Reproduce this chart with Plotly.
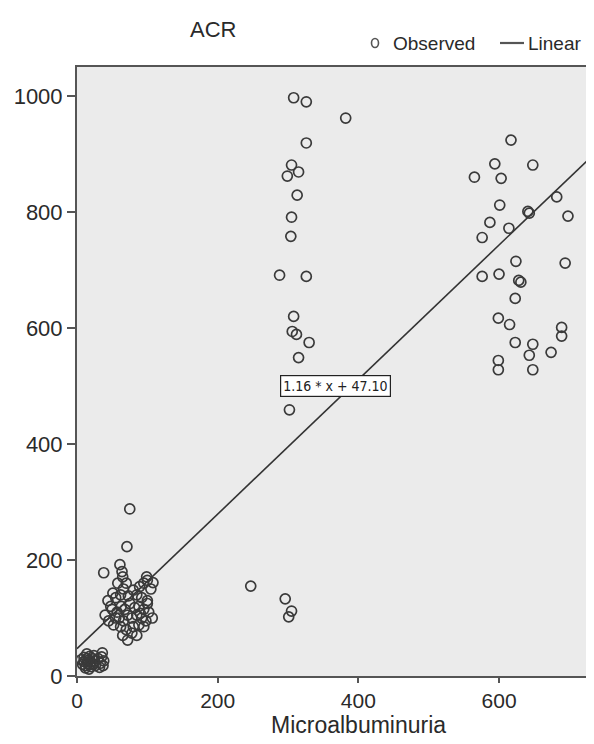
import plotly.graph_objects as go

# ---------------- data ----------------
upper_mid_x = [308, 326, 382, 326, 305, 299, 315, 313, 305, 304, 288, 326, 308, 306, 312, 330, 315, 302]
upper_mid_y = [997, 990, 962, 919, 881, 862, 869, 829, 791, 758, 691, 689, 620, 594, 589, 575, 549, 459]

lower_mid_x = [247, 296, 305, 301]
lower_mid_y = [155, 133, 112, 102]

right_x = [617, 594, 648, 565, 603, 601, 682, 641, 643, 587, 614, 698, 576,
           624, 694, 576, 600, 628, 631, 623, 599, 615, 689, 689, 623, 648, 674, 643, 599, 599, 648]
right_y = [924, 883, 881, 860, 858, 812, 826, 801, 798, 782, 772, 793, 756,
           715, 712, 689, 693, 682, 679, 651, 617, 606, 601, 586, 575, 572, 558, 553, 544, 528, 528]

cluster_x = [75, 71, 38, 61, 64, 65, 99, 108, 89, 51, 95, 100, 58, 70, 66, 80, 44, 48, 55, 62,
             73, 85, 92, 100, 105, 57, 63, 68, 75, 82, 88, 95, 102, 107, 60, 66, 72, 78, 85, 92,
             98, 40, 45, 52, 62, 70, 80, 88, 95, 65, 72, 78, 85, 100, 90, 55, 50]
cluster_y = [288, 223, 178, 192, 180, 171, 171, 161, 154, 143, 160, 165, 160, 160, 150, 148, 130, 120, 135, 140,
             138, 140, 135, 130, 150, 110, 120, 115, 125, 118, 120, 115, 110, 100, 100, 95, 105, 100, 105, 100,
             95, 105, 95, 88, 85, 80, 85, 88, 85, 70, 62, 74, 70, 125, 108, 100, 115]

blob_x = [8, 10, 12, 14, 15, 16, 18, 18, 20, 20, 22, 23, 25, 10, 12, 6, 24, 17, 26, 14,
          30, 33, 35, 37, 38, 32, 36]
blob_y = [20, 25, 18, 30, 22, 27, 20, 34, 24, 16, 30, 20, 26, 32, 14, 28, 35, 12, 18, 38,
          30, 22, 33, 18, 26, 15, 40]

obs_x = upper_mid_x + lower_mid_x + right_x + cluster_x + blob_x
obs_y = upper_mid_y + lower_mid_y + right_y + cluster_y + blob_y

slope = 1.16
intercept = 47.10
fit_x = [0, 735]
fit_y = [slope * v + intercept for v in fit_x]
eq_label = "1.16 * x + 47.10"
eq_pos = (367, 500)

x_ticks = [0, 200, 400, 600]
y_ticks = [0, 200, 400, 600, 800, 1000]

# ---------------- figure ----------------
# page body has an 8px margin: the figure is drawn from (8, 8) of the window
OFF = 8
WIN_W, WIN_H = 594, 744
W, H = WIN_W - OFF, WIN_H - OFF
PLOT_L, PLOT_R, PLOT_T, PLOT_B = 77, 594, 67, 676   # window pixels
ML, MR, MT, MB = PLOT_L - OFF, OFF + W - PLOT_R, PLOT_T - OFF, OFF + H - PLOT_B
PW, PH = PLOT_R - PLOT_L, PLOT_B - PLOT_T

def px_to_paper(px, py):
    return (px - PLOT_L) / PW, (PLOT_B - py) / PH

FONT = "Liberation Sans, Arial, sans-serif"
INK = "#2a2a2a"

fig = go.Figure()
fig.add_trace(go.Scatter(
    x=fit_x, y=fit_y, mode="lines",
    line=dict(color="#333333", width=1.6), showlegend=False, hoverinfo="skip"))
fig.add_trace(go.Scatter(
    x=obs_x, y=obs_y, mode="markers",
    marker=dict(symbol="circle-open", size=10, color="#3a3a3a", line=dict(width=1.7, color="#3a3a3a")),
    showlegend=False))

fig.update_layout(
    width=W, height=H,
    margin=dict(l=ML, r=MR, t=MT, b=MB, pad=0),
    paper_bgcolor="white", plot_bgcolor="#ebebeb",
    font=dict(family=FONT, color=INK),
    xaxis=dict(range=[0, 735], tickvals=x_ticks, ticks="outside", ticklen=5, tickwidth=1.5,
               tickcolor="#555", showline=True, linecolor="#555", linewidth=2, mirror=True,
               showgrid=False, zeroline=False, tickfont=dict(size=21, color=INK)),
    yaxis=dict(range=[0, 1050], tickvals=y_ticks, ticks="outside", ticklen=8, tickwidth=1.5,
               tickcolor="#555", showline=True, linecolor="#555", linewidth=2,
               showgrid=False, zeroline=False, tickfont=dict(size=22, color=INK)),
)

# title
ax, ay = px_to_paper(213, 30)
fig.add_annotation(xref="paper", yref="paper", x=ax, y=ay, text="ACR", showarrow=False,
                   xanchor="center", yanchor="middle", font=dict(size=22, color=INK))
# x-axis title
ax, ay = px_to_paper(358, 725)
fig.add_annotation(xref="paper", yref="paper", x=ax, y=ay, text="Microalbuminuria", showarrow=False,
                   xanchor="center", yanchor="middle", font=dict(size=23, color=INK))

# equation box
fig.add_annotation(x=eq_pos[0], y=eq_pos[1], text=eq_label, showarrow=False,
                   font=dict(size=14, family="Liberation Sans Narrow, DejaVu Sans Condensed, Arial Narrow, sans-serif",
                             color="#222"),
                   bgcolor="white", bordercolor="#222", borderwidth=1.2, borderpad=2)

# legend (manual)
cx, cy = px_to_paper(375, 43)
fig.add_shape(type="circle", xref="paper", yref="paper", xsizemode="pixel", ysizemode="pixel",
              xanchor=cx, yanchor=cy, x0=-3.5, x1=3.5, y0=-4.5, y1=4.5,
              line=dict(color="#555", width=1.6))
tx, ty = px_to_paper(391, 43)
fig.add_annotation(xref="paper", yref="paper", x=tx, y=ty, text="Observed", showarrow=False,
                   xanchor="left", yanchor="middle", font=dict(size=19, color=INK))
lx0, ly = px_to_paper(500, 43)
lx1, _ = px_to_paper(524, 43)
fig.add_shape(type="line", xref="paper", yref="paper", x0=lx0, x1=lx1, y0=ly, y1=ly,
              line=dict(color="#555", width=2.2))
tx2, _ = px_to_paper(526, 43)
fig.add_annotation(xref="paper", yref="paper", x=tx2, y=ly, text="Linear", showarrow=False,
                   xanchor="left", yanchor="middle", font=dict(size=19, color=INK))

fig.write_html("out.html")
